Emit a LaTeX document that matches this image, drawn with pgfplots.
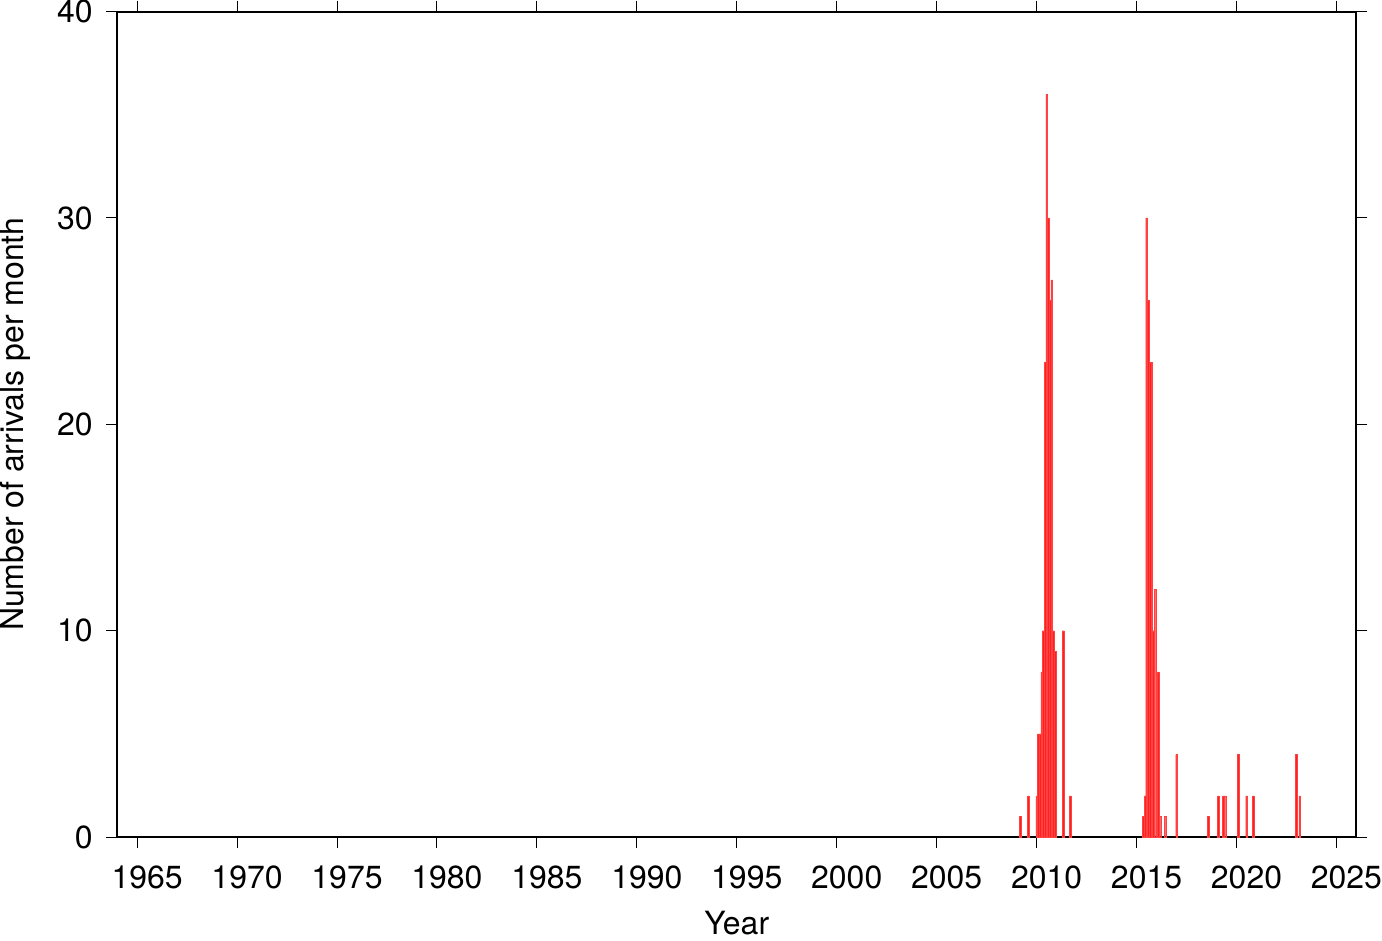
\documentclass[border=0pt]{standalone}
\usepackage{pgfplots}
\pgfplotsset{compat=1.18}
\usepackage{fontspec}
\setmainfont{TeX Gyre Heros}
\definecolor{barred}{RGB}{255,32,32}

\begin{document}
\begin{tikzpicture}
    \begin{axis}[
        scale only axis,
        width=620pt, height=413pt,
        xmin=1964, xmax=2026,
        ymin=0, ymax=40,
        xtick={1965,1970,...,2025},
        ytick={0,10,20,30,40},
        tick pos=both,
        tick align=outside,
        major tick length=5.5pt,
        axis line style={line width=1pt},
        every tick/.style={black, line width=0.5pt},
        font=\fontsize{16}{19}\selectfont,
        /pgf/number format/assume math mode=true,
        /pgf/number format/1000 sep={},
        xticklabel style={inner sep=0pt, xshift=5pt, yshift=-8.5pt},
        yticklabel style={inner sep=0pt, xshift=-6.5pt},
        xlabel={Year},
        ylabel={Number of arrivals per month},
        xlabel style={inner sep=3pt, at={(axis description cs:0.5,0)}, anchor=center, yshift=-43pt},
        ylabel style={inner sep=0pt, at={(axis description cs:0,0.5)}, anchor=center, yshift=51pt},
    ]
        % arrivals per month (bar centred on first day of the month)
        \addplot[ybar, bar width=0.0833, fill=barred, draw=barred!85!white, line width=0.15pt] table {
            2009.1667 1
            2009.5833 2
            2010.0000 2
            2010.0833 5
            2010.1667 5
            2010.2500 8
            2010.3333 10
            2010.4167 23
            2010.5000 36
            2010.5833 30
            2010.6667 26
            2010.7500 27
            2010.8333 10
            2010.9167 9
            2011.3333 10
            2011.6667 2
            2015.3333 1
            2015.4167 2
            2015.5000 30
            2015.5833 26
            2015.6667 23
            2015.7500 23
            2015.8333 10
            2015.9167 12
            2016.0833 8
            2016.1667 1
            2016.4167 1
            2017.0000 4
            2018.5833 1
            2019.0833 2
            2019.3333 2
            2019.4167 2
            2020.0833 4
            2020.5000 2
            2020.8333 2
            2023.0000 4
            2023.1667 2
        };
    \end{axis}
\end{tikzpicture}
\end{document}
